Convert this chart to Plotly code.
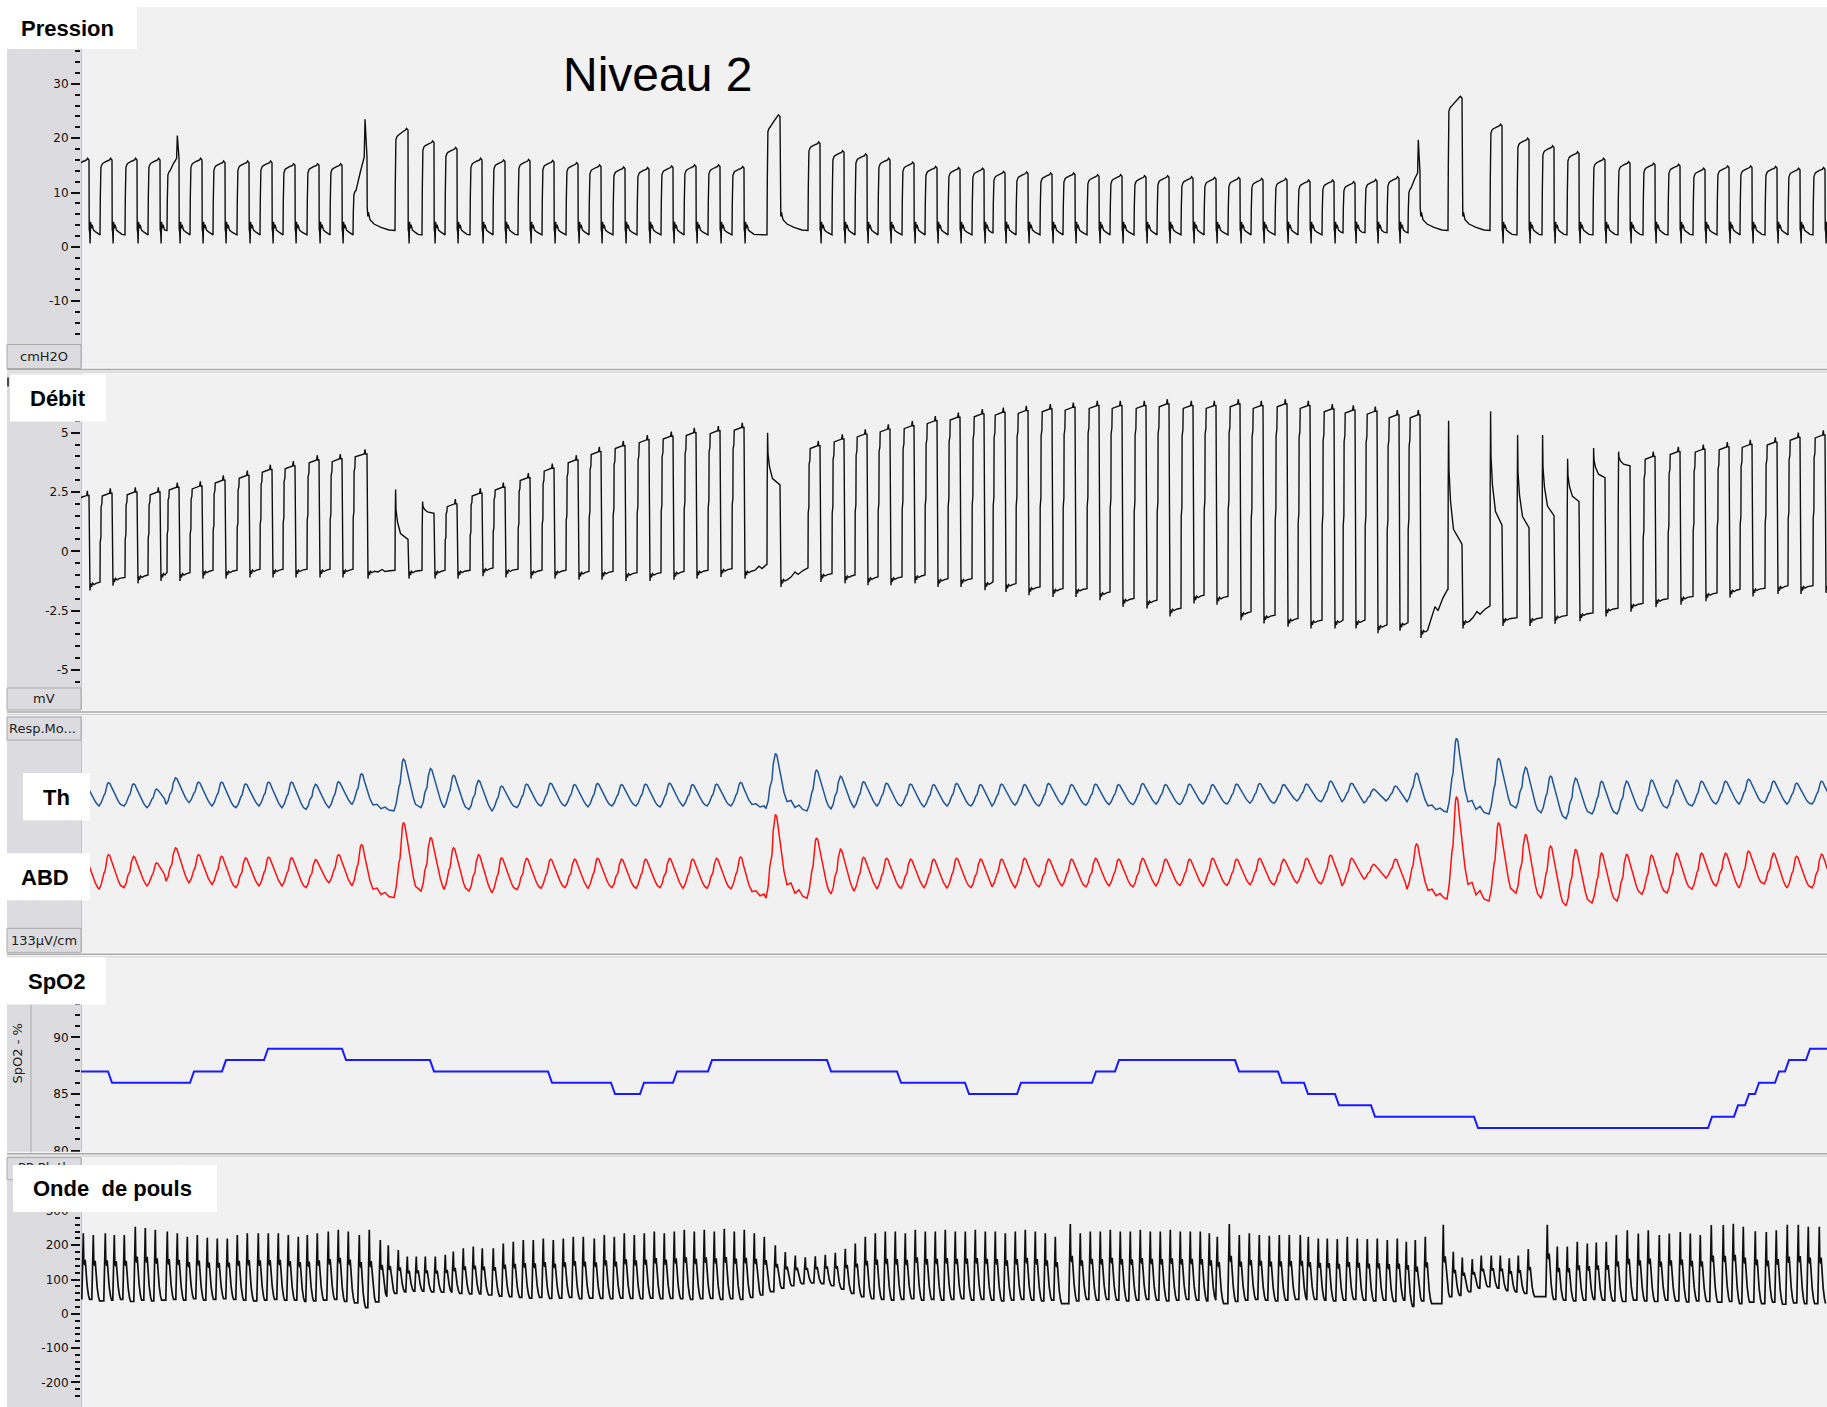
import plotly.graph_objects as go

W, H = 1827, 1407
K = 1.005        # page-to-screen vertical correction used for every paper position
T_END = 174.6    # seconds of recording shown across the sheet

# ---------------- respiratory cycles: one entry per breath ----------------
breath_on = [-0.4, 1.9, 4.4, 6.7, 8.6, 10.9, 13.2, 15.6, 17.9, 20.2, 22.6, 24.9, 27.2,
             31.4, 34.1, 36.4, 38.9, 41.2, 43.7, 46.1, 48.5, 50.8, 53.2, 55.6, 58.0, 60.3, 62.7, 65.1,
             68.6, 72.7, 75.1, 77.4, 79.7, 82.1, 84.4, 86.7, 89.1, 91.2, 93.5, 95.9, 98.2, 100.6,
             102.9, 105.3, 107.6, 110.0, 112.3, 114.7, 117.0, 119.4, 121.7, 124.1, 126.2, 128.4,
             130.6, 132.7, 136.7, 140.9, 143.6, 146.1, 148.6, 151.2, 153.7, 156.2, 158.7, 161.2,
             163.6, 165.9, 168.4, 170.7, 173.2]
insp_default = 1.2
insp_long = {12: 1.4, 13: 1.3, 28: 1.3, 56: 1.4}

# Pression (cmH2O)
p_plateau = [16.0, 16.0, 16.0, 16.0, 16.3, 16.0, 15.5, 15.5, 15.5, 15.0, 15.0, 15.0, 16.5,
             21.5, 19.2, 18.0, 16.0, 15.7, 15.8, 15.6, 15.2, 14.8, 14.4, 14.3, 14.6, 14.8, 14.8, 14.5,
             24.0, 19.0, 17.4, 16.8, 16.0, 15.3, 14.5, 14.3, 14.2, 13.6, 13.5, 13.3, 13.3, 13.0,
             13.0, 12.8, 12.8, 12.6, 12.5, 12.5, 12.3, 12.3, 12.0, 12.0, 11.7, 12.1,
             12.6, 13.6, 27.4, 22.3, 19.7, 18.3, 17.2, 16.0, 15.4, 15.1, 14.9, 14.2,
             14.6, 14.6, 14.5, 14.2, 14.3]
p_start_low = {4: 14.0, 12: 10.4, 13: 20.5, 28: 22.0, 55: 10.8, 56: 25.8}
p_spike = {4: 20.5, 12: 23.5, 55: 19.7}

# Débit
d_peak = [2.35, 2.45, 2.5, 2.5, 2.7, 2.75, 3.0, 3.2, 3.45, 3.6, 3.85, 3.9, 4.1,
          2.6, 2.1, 2.0, 2.45, 2.7, 3.1, 3.5, 3.85, 4.2, 4.45, 4.7, 4.85, 5.0, 5.08, 5.22,
          5.0, 4.45, 4.73, 4.94, 5.15, 5.29, 5.5, 5.65, 5.79, 5.86, 5.93, 6.0, 6.07, 6.14,
          6.14, 6.14, 6.21, 6.14, 6.14, 6.21, 6.14, 6.21, 6.14, 6.0, 5.95, 5.9,
          5.75, 5.75, 5.5, 5.9, 4.9, 4.9, 3.9, 4.35, 4.2, 4.0, 4.2, 4.3,
          4.4, 4.5, 4.6, 4.8, 4.9]
d_decay_end = {13: 0.5, 14: 1.6, 28: 2.8, 56: 0.3, 57: 1.1, 58: 1.0, 59: 1.5, 60: 2.1, 61: 3.1, 62: 3.6}
d_trough = [-1.4, -1.2, -1.1, -1.0, -1.0, -0.9, -0.9, -0.85, -0.85, -0.85, -0.85, -0.85, -0.9,
            -0.9, -0.9, -0.9, -0.8, -0.85, -0.9, -0.9, -0.95, -0.95, -1.0, -1.0, -0.95, -0.9, -0.83, -0.9,
            -1.25, -1.04, -1.1, -1.18, -1.18, -1.1, -1.25, -1.25, -1.39, -1.46, -1.6, -1.67, -1.67, -1.81,
            -2.09, -2.16, -2.5, -1.95, -2.0, -2.65, -2.79, -2.93, -3.0, -3.0, -3.0, -3.2,
            -3.1, -3.4, -3.0, -2.9, -2.9, -2.8, -2.7, -2.5, -2.3, -2.1, -2.0, -1.85,
            -1.7, -1.65, -1.55, -1.55, -1.5]
d_pause_end = {12: -0.8, 27: -0.55, 28: -0.7, 55: -1.6, 56: -2.3}

# Thoracic / abdominal belts (µV)
th_pk = [40, 47, 43, 24, 64, 49, 49, 43, 49, 49, 41, 50, 78, 130, 97, 73, 55, 35,
         42, 45, 40, 44, 40, 42, 45, 40, 42, 48,
         150, 91, 70, 50, 45, 42, 40, 44, 40, 42, 40, 44, 40, 42,
         40, 44, 40, 42, 40, 42, 44, 40, 42, 52, 45, 24,
         35, 80, 203, 133, 101, 70, 63, 52, 52, 56, 56, 52,
         52, 59, 52, 45, 52]
th_tr = [-35, -35, -35, -41, -29, -23, -35, -41, -35, -41, -47, -41, -29, -52, -41, -41, -47, -52,
         -40, -35, -35, -38, -35, -35, -38, -35, -35, -35,
         -44, -52, -45, -40, -35, -35, -38, -35, -35, -35, -32, -35, -30, -32,
         -30, -30, -28, -30, -28, -28, -25, -25, -17, -20, -20, -24,
         -17, -20, -56, -63, -42, -59, -80, -63, -63, -52, -42, -35,
         -28, -28, -24, -28, -28]
abd_pk = [45, 58, 52, 29, 82, 58, 52, 47, 49, 47, 41, 58, 93, 171, 119, 82, 58, 47,
          45, 42, 42, 45, 42, 42, 45, 42, 45, 50,
          200, 117, 77, 49, 45, 42, 42, 45, 42, 42, 45, 42, 42, 45,
          42, 45, 42, 42, 45, 42, 45, 42, 45, 56, 45, 24,
          42, 95, 262, 171, 130, 88, 77, 63, 60, 56, 63, 63,
          63, 70, 63, 52, 60]
abd_tr = [-60, -64, -58, -52, -35, -41, -47, -58, -52, -52, -58, -41, -52, -93, -70, -64, -70, -76,
          -65, -60, -58, -60, -58, -60, -58, -60, -60, -62,
          -95, -95, -80, -70, -62, -60, -58, -60, -58, -55, -58, -55, -52, -55,
          -52, -55, -52, -50, -52, -50, -48, -48, -42, -45, -52, -28,
          -24, -63, -98, -105, -77, -95, -122, -112, -105, -81, -77, -63,
          -52, -59, -45, -59, -59]

# SpO2 (%): value at start, then times of each change and the new value
spo2_start = 87
spo2_t = [2.7, 10.9, 14.1, 18.3, 26.1, 34.9, 46.7, 53.0, 55.9, 59.2, 62.7, 74.6, 81.6, 88.4, 93.6,
          101.1, 103.4, 115.4, 119.7, 122.3, 125.4, 129.0, 139.3, 162.7, 165.3, 166.4, 167.4, 169.4,
          170.4, 172.5]
spo2_v = [86, 87, 88, 89, 88, 87, 86, 85, 86, 87, 88, 87, 86, 85, 86,
          87, 88, 87, 86, 85, 84, 83, 82, 83, 84, 85, 86, 87,
          88, 89]

# Onde de pouls: systolic peak time, peak value, trough value after the beat
beat_t = [0.2, 1.2, 2.4, 3.3, 4.3, 5.4, 6.4, 7.4, 8.6, 9.6, 10.6, 11.6, 12.6, 13.6, 14.6, 15.6,
          16.6, 17.7, 18.7, 19.7, 20.7, 21.7, 22.6, 23.6, 24.7, 25.7, 26.7, 27.8, 28.8, 29.9, 30.7,
          31.7, 32.6, 33.5, 34.4, 35.4, 36.4, 37.2, 38.2, 39.2, 40.1, 41.2,
          42.2, 43.2, 44.2, 45.2, 46.2, 47.2, 48.2, 49.2, 50.2, 51.3, 52.3, 53.3, 54.3, 55.3, 56.3,
          57.3, 58.3, 59.3, 60.3, 61.3, 62.3, 63.3, 64.3, 65.3, 66.3, 67.3,
          68.3, 69.4, 70.4, 71.4, 72.4, 73.4, 74.4, 75.4, 76.4, 77.4,
          78.4, 79.4, 80.4, 81.4, 82.4, 83.4, 84.4, 85.4, 86.4, 87.4, 88.4, 89.4, 90.4, 91.4, 92.4,
          93.4, 94.4, 95.4, 96.4, 97.4, 98.9,
          99.9, 100.9, 101.9, 102.9, 103.9, 104.9, 105.9, 106.9, 107.9, 108.9, 109.9, 110.9, 111.9,
          112.8, 113.6, 114.8, 115.8, 116.8, 117.8, 118.8, 119.8, 120.8,
          121.9, 122.7, 123.7, 124.6, 125.6, 126.6, 127.6, 128.6, 129.6, 130.6, 131.6, 132.5, 133.4,
          134.4, 136.2, 137.2, 138.1, 139.1, 140.0, 141.0, 141.9, 142.8, 143.7, 144.7, 146.6,
          147.6, 148.6, 149.6, 150.6, 151.5, 152.5, 153.5, 154.6, 155.7, 156.7, 157.8, 158.8, 159.9,
          160.9, 161.9, 163.0, 164.2, 165.2, 166.2, 167.4, 168.5, 169.5, 170.6, 171.7, 172.7, 173.8]
beat_pk = [235, 230, 235, 230, 230, 254, 250, 245, 240, 235, 225, 230, 222, 220, 220, 230,
           235, 235, 235, 235, 230, 225, 230, 235, 240, 245, 240, 230, 245, 215, 200,
           186, 167, 167, 167, 167, 172, 182, 191, 196, 191, 191,
           205, 210, 215, 215, 220, 215, 220, 225, 225, 220, 230, 225, 235, 230, 235,
           240, 235, 240, 245, 240, 245, 240, 248, 240, 245, 235,
           225, 200, 180, 170, 165, 168, 172, 178, 190, 205,
           225, 235, 240, 240, 235, 245, 240, 240, 245, 240, 240, 245, 240, 240, 235,
           240, 245, 240, 235, 225, 262,
           235, 240, 240, 245, 240, 240, 245, 240, 240, 245, 240, 240, 240,
           235, 225, 262, 230, 235, 230, 228, 230, 230,
           230, 225, 220, 220, 218, 225, 220, 218, 220, 215, 220, 210, 215,
           225, 260, 181, 164, 160, 170, 170, 170, 162, 170, 189, 260,
           196, 196, 210, 205, 208, 210, 230, 244, 234, 244, 230, 234, 239,
           234, 230, 259, 259, 263, 254, 241, 239, 244, 260, 260, 254, 254]
beat_tr = [42, 38, 40, 42, 36, 40, 38, 40, 42, 40, 44, 40, 42, 44, 42, 40,
           38, 40, 42, 40, 40, 36, 38, 40, 42, 36, 32, 18, 35, 50, 60,
           64, 66, 66, 64, 63, 62, 60, 58, 58, 55, 52,
           50, 48, 46, 48, 45, 46, 48, 44, 46, 45, 44, 46, 45, 44, 46,
           44, 45, 44, 42, 44, 45, 42, 44, 42, 48, 55,
           65, 75, 82, 88, 90, 88, 82, 72, 60, 50,
           44, 42, 40, 42, 44, 40, 42, 40, 42, 44, 40, 42, 40, 38, 40,
           42, 40, 38, 40, 30, 38,
           42, 40, 42, 40, 38, 40, 42, 40, 38, 40, 42, 40, 38,
           40, 30, 36, 40, 42, 40, 38, 40, 42,
           40, 42, 40, 38, 40, 42, 40, 38, 40, 36, 40, 22, 38,
           30, 50, 54, 65, 75, 79, 75, 68, 64, 60, 50, 42,
           40, 38, 40, 42, 40, 38, 36, 40, 38, 36, 40, 38, 35,
           38, 36, 34, 36, 30, 34, 30, 34, 28, 32, 30, 30, 30]

# ---------------- waveform shapes ----------------
P_EXP = [(0.02, 3.2), (0.07, 2.7), (0.11, 0.6), (0.16, 4.6), (0.22, 3.4), (0.3, 4.1),
         (0.45, 3.1), (0.7, 2.7), (1.0, 2.3)]
P_EXP_PAUSE = [(0.02, 7.3), (0.08, 5.6), (0.14, 6.4), (0.3, 5.0), (0.7, 4.2), (1.4, 3.6), (2.2, 3.1)]
BELT_RISE = [(-0.1, 0.0), (0.12, 0.14), (0.28, 0.38), (0.4, 0.47), (0.5, 0.52), (0.62, 0.8),
             (0.74, 0.95), (0.84, 1.0), (0.98, 0.97)]
BELT_FALL = [(1.12, 0.84), (1.3, 0.66), (1.48, 0.5), (1.64, 0.38), (1.84, 0.2), (2.05, 0.07)]
BELT_FALL_PAUSE = [(1.15, 0.8), (1.4, 0.55), (1.7, 0.32), (2.0, 0.16), (2.4, 0.18), (2.8, 0.06),
                   (3.2, 0.1), (3.6, 0.02)]


def next_on(i):
    return breath_on[i + 1] if i + 1 < len(breath_on) else T_END + 3


def pressure_series():
    ts, vs = [], []
    base = 2.2
    for i, on in enumerate(breath_on):
        ins = insp_long.get(i, insp_default)
        drop, nxt = on + ins, next_on(i)
        pp = p_plateau[i]
        ps = p_start_low.get(i, pp - 0.6)
        sp = p_spike.get(i, 0)
        pts = [(on, base), (on + 0.03, base + 0.5 * (ps - base)), (on + 0.09, ps - 0.8),
               (on + 0.2, ps - 0.2), (on + 0.3, ps), (on + 0.55 * ins, ps + 0.6 * (pp - ps)),
               (on + 0.8 * ins, pp)]
        if sp:
            pts += [(on + 0.86 * ins, sp), (on + 0.93 * ins, 0.5 * (sp + pp))]
        else:
            pts += [(on + 0.88 * ins, pp + 0.3)]
        pts.append((drop, pp))
        tmpl = P_EXP_PAUSE if (max(pp, sp) > 19 and nxt - drop > 2.0) else P_EXP
        for dt, val in tmpl:
            if drop + dt < nxt - 0.05:
                pts.append((drop + dt, val))
        last = pts[-1][1] - 0.1
        pts.append((nxt - 0.03, last))
        base = last
        for t, v in pts:
            ts.append(t)
            vs.append(v)
    return ts, vs


def flow_series():
    ts, vs = [], []
    lo = -1.3
    for i, on in enumerate(breath_on):
        ins = insp_long.get(i, insp_default)
        drop, nxt = on + ins, next_on(i)
        pk, tr = d_peak[i], d_trough[i]
        en = d_decay_end.get(i)
        if en is None:
            pts = [(on, lo), (on + 0.02, lo + 0.45 * (pk - lo)), (on + 0.09, lo + 0.5 * (pk - lo)),
                   (on + 0.11, lo + 0.85 * (pk - lo)), (on + 0.19, lo + 0.88 * (pk - lo)),
                   (on + 0.22, pk - 0.12), (on + 0.5 * ins, pk - 0.05), (on + 0.8 * ins, pk),
                   (on + 0.86 * ins, pk + 0.2), (on + 0.9 * ins, pk), (drop, pk)]
            top = pk
        else:
            pts = [(on, lo), (on + 0.02, lo + 0.6 * (pk - lo)), (on + 0.06, pk),
                   (on + 0.1, en + 0.6 * (pk - en)), (on + 0.25, en + 0.35 * (pk - en)),
                   (on + 0.55, en + 0.12 * (pk - en)), (drop, en)]
            top = en
        pts += [(drop + 0.02, tr + 0.45 * (top - tr)), (drop + 0.08, tr + 0.4 * (top - tr)),
                (drop + 0.1, tr - 0.25), (drop + 0.15, tr + 0.05), (drop + 0.25, tr - 0.1),
                (drop + 0.35, tr + 0.06), (drop + 0.5, tr), (drop + 0.75, tr + 0.06)]
        end = d_pause_end.get(i, tr + 0.1)
        if nxt - drop > 2.0:
            pts += [(drop + 1.1, tr + 0.3 * (end - tr)), (drop + 1.5, tr + 0.55 * (end - tr) + 0.08),
                    (drop + 1.8, tr + 0.5 * (end - tr)), (drop + 2.3, tr + 0.8 * (end - tr))]
        pts = [p for p in pts if p[0] < nxt - 0.05]
        pts.append((nxt - 0.03, end))
        lo = end
        for t, v in pts:
            ts.append(t)
            vs.append(v)
    return ts, vs


def belt_series(pk_list, tr_list, offset):
    ts, vs = [], []
    n = len(breath_on)
    for i, on in enumerate(breath_on):
        nxt = next_on(i)
        pk, tr = pk_list[i], tr_list[i]
        trn = tr_list[i + 1] if i + 1 < n else tr
        pts = [(on + dt, tr + f * (pk - tr)) for dt, f in BELT_RISE]
        fall = BELT_FALL if nxt - on < 3.0 else BELT_FALL_PAUSE
        for dt, f in fall:
            if on + dt < nxt - 0.2:
                pts.append((on + dt, trn + f * (pk - trn)))
        for t, v in pts:
            ts.append(t)
            vs.append(v + offset)
    return ts, vs


def pulse_series():
    ts, vs = [], []
    n = len(beat_t)
    for j, tp in enumerate(beat_t):
        pk = beat_pk[j]
        lo = beat_tr[j - 1] if j > 0 else beat_tr[0]
        trr = beat_tr[j]
        up_next = beat_t[j + 1] - 0.12 if j + 1 < n else tp + 1.0
        pts = [(tp - 0.12, lo), (tp - 0.06, lo + 0.45 * (pk - lo)), (tp - 0.02, pk), (tp + 0.03, pk),
               (tp + 0.08, lo + 0.58 * (pk - lo)), (tp + 0.17, lo + 0.52 * (pk - lo)),
               (tp + 0.22, lo + 0.6 * (pk - lo)), (tp + 0.3, trr + 0.42 * (pk - trr)),
               (tp + 0.42, trr + 0.2 * (pk - trr)), (tp + 0.55, trr + 0.06 * (pk - trr)),
               (tp + 0.66, trr)]
        for t, v in pts:
            if t < up_next - 0.02 or t <= tp + 0.03:
                ts.append(t)
                vs.append(v)
    return ts, vs


def spo2_series():
    ts, vs = [0.0], [spo2_start]
    cur = spo2_start
    for c, v in zip(spo2_t, spo2_v):
        ts += [c, c + 0.4]
        vs += [cur, v]
        cur = v
    ts.append(T_END)
    vs.append(cur)
    return ts, vs


TH_OFFSET, ABD_OFFSET = 134, -130

fig = go.Figure()
black = dict(color='#101010', width=1.4)
px_, pv_ = pressure_series()
fig.add_trace(go.Scatter(x=px_, y=pv_, mode='lines', line=black, yaxis='y', hoverinfo='skip'))
fx_, fv_ = flow_series()
fig.add_trace(go.Scatter(x=fx_, y=fv_, mode='lines', line=black, yaxis='y2', hoverinfo='skip'))
tx_, tv_ = belt_series(th_pk, th_tr, TH_OFFSET)
fig.add_trace(go.Scatter(x=tx_, y=tv_, mode='lines', line=dict(color='#1f5497', width=1.5),
                         yaxis='y3', hoverinfo='skip'))
ax_, av_ = belt_series(abd_pk, abd_tr, ABD_OFFSET)
fig.add_trace(go.Scatter(x=ax_, y=av_, mode='lines', line=dict(color='#ff1010', width=1.5),
                         yaxis='y3', hoverinfo='skip'))
sx_, sv_ = spo2_series()
fig.add_trace(go.Scatter(x=sx_, y=sv_, mode='lines', line=dict(color='#1a1aff', width=2),
                         yaxis='y4', hoverinfo='skip'))
ox_, ov_ = pulse_series()
fig.add_trace(go.Scatter(x=ox_, y=ov_, mode='lines', line=dict(color='#101010', width=1.7),
                         yaxis='y5', hoverinfo='skip'))


def fy(py):
    return 1 - py * K / H


FONT = 'Liberation Sans, Arial, sans-serif'
SMALL = 'DejaVu Sans, Verdana, sans-serif'
tick_font = dict(family=SMALL, size=12, color='#111111')


def yaxis(dom, rng, tickvals=None, ticktext=None, minor=None):
    d = dict(domain=dom, range=rng, anchor='x', showgrid=False,
             zeroline=False, showline=False, fixedrange=True)
    if tickvals:
        d.update(tickmode='array', tickvals=tickvals, ticktext=ticktext, ticks='outside', ticklen=9,
                 tickwidth=2, tickcolor='#111111', tickfont=tick_font,
                 minor=dict(tickmode='array', tickvals=minor, ticks='outside', ticklen=5,
                            tickwidth=2, tickcolor='#111111'))
    else:
        d.update(showticklabels=False, ticks='')
    return d


p_minor = [v for v in range(-16, 37, 2)]
d_minor = [v / 2 for v in range(-11, 12)]
s_minor = list(range(80, 97))
o_minor = list(range(-260, 341, 20))

layout = dict(
    width=W, height=H, margin=dict(l=0, r=0, t=0, b=0),
    paper_bgcolor='white', plot_bgcolor='rgba(0,0,0,0)', showlegend=False,
    xaxis=dict(domain=[81 / W, 1], range=[0, T_END], visible=False, fixedrange=True),
    yaxis=yaxis([fy(369), fy(7)], [-22.58, 44.15], [-10, 0, 10, 20, 30],
                ['-10', '0', '10', '20', '30'], p_minor),
    yaxis2=yaxis([fy(710), fy(374)], [-6.73, 7.45], [-5, -2.5, 0, 2.5, 5],
                 ['-5', '-2.5', '0', '2.5', '5'], d_minor),
    yaxis3=yaxis([fy(952), fy(716)], [-418.9, 411.8]),
    yaxis4=yaxis([fy(1151), fy(956)], [79.82, 97.08], [80, 85, 90], ['80', '85', '90'], s_minor),
    yaxis5=yaxis([0, fy(1156)], [-257.0, 455.5], [-200, -100, 0, 100, 200, 300],
                 ['-200', '-100', '0', '100', '200', '300'], o_minor),
)
fig.update_layout(**layout)

shapes = []
GUTTER = '#dcdce0'


def rect(x0, y0, x1, y1, fill, line=None, lw=0, layer='above'):
    shapes.append(dict(type='rect', xref='paper', yref='paper', x0=x0 / W, x1=x1 / W,
                       y0=fy(y1), y1=fy(y0), fillcolor=fill, layer=layer,
                       line=dict(color=line or fill, width=lw)))


def seg(x0, y0, x1, y1, color, w, layer='above'):
    shapes.append(dict(type='line', xref='paper', yref='paper', x0=x0 / W, x1=x1 / W,
                       y0=fy(y0), y1=fy(y1), line=dict(color=color, width=w), layer=layer))


# window background and left gutter
rect(7, 7, W, H + 10, '#f1f1f1', layer='below')
rect(7, 7, 81, H + 10, GUTTER, layer='below')
seg(81.5, 7, 81.5, H + 10, '#c4c4c4', 1, layer='below')

# splitters between channels
for ys in (370, 712, 954, 1153):
    rect(7, ys - 3, W, ys + 3, '#f7f7f7')
    seg(7, ys - 1, W, ys - 1, '#a8a8a8', 1.5)
    seg(7, ys + 1.5, W, ys + 1.5, '#c8c8c8', 1)

# unit boxes at the foot / head of the gutter
for (y0, y1) in ((344, 368), (687, 709), (716, 739), (927, 951), (1156, 1178)):
    rect(7, y0, 81, y1, GUTTER, line='#a9a9a9', lw=1)
seg(31, 1003, 31, 1151, '#a9a9a9', 1)
seg(8, 377, 8, 386, '#202020', 1.5)

# white title boxes (the pulse one is drawn as an annotation further down)
for (x0, y0, x1, y1) in ((7, 7, 137, 49), (10, 374, 106, 421), (23, 772, 90, 819),
                         (7, 852, 90, 899), (7, 956, 106, 1003)):
    rect(x0, y0, x1, y1, 'white')

fig.update_layout(shapes=shapes)

ann = []


def text(x, y, s, size, bold=False, anchor='left', color='black', angle=0, family=FONT):
    ann.append(dict(xref='paper', yref='paper', x=x / W, y=fy(y), text=f'<b>{s}</b>' if bold else s,
                    showarrow=False, xanchor=anchor, yanchor='middle', textangle=angle,
                    font=dict(family=family, size=size, color=color)))


text(44, 356, 'cmH2O', 13, anchor='center', color='#222222', family=SMALL)
text(44, 698, 'mV', 13, anchor='center', color='#222222', family=SMALL)
text(42, 727, 'Resp.Mo...', 13, anchor='center', color='#222222', family=SMALL)
text(44, 939, '133µV/cm', 13, anchor='center', color='#222222', family=SMALL)
text(44, 1166, 'PP Pleth', 13, anchor='center', color='#222222', family=SMALL)
text(18, 1052, 'SpO2 - %', 13, anchor='center', color='#222222', angle=-90, family=SMALL)

# white box for the pulse title, laid over the gutter caption beneath it
ann.append(dict(xref='paper', yref='paper', x=13 / W, y=fy(1163), xanchor='left', yanchor='top',
                text='\u00a0', showarrow=False, width=204, height=47, bgcolor='white',
                borderpad=0, borderwidth=0, font=dict(family=FONT, size=10)))

text(19, 28, 'Pression', 22, bold=True)
text(28, 398, 'Débit', 22, bold=True)
text(41, 796, 'Th', 22, bold=True)
text(19, 876, 'ABD', 22, bold=True)
text(26, 980, 'SpO2', 22, bold=True)
text(31, 1187, 'Onde\u00a0 de pouls', 22, bold=True)
text(561, 74, 'Niveau 2', 48)
fig.update_layout(annotations=ann)

fig.write_html(
    "out.html", config={'displayModeBar': False},
    post_script=("document.body.style.margin='0';"
                 "document.body.style.background='#f1f1f1';"))
